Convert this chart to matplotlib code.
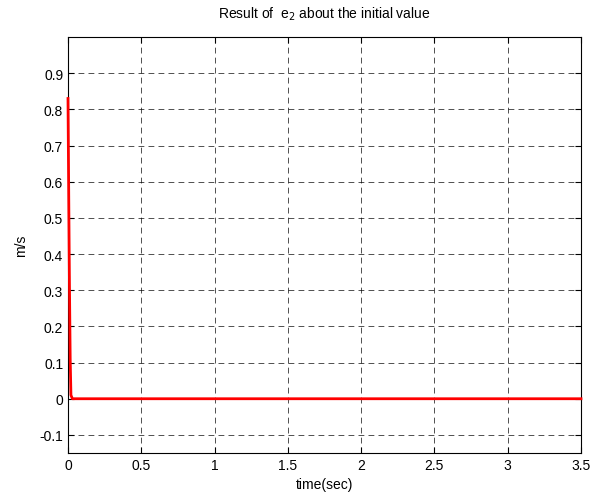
import matplotlib.pyplot as plt

# e2 response
temps = [0, 0.005, 0.01, 0.015, 0.02, 0.03, 3.5]
e2 = [0.83, 0.56, 0.31, 0.11, 0.01, 0.0, 0.0]

x_ticks = [0, 0.5, 1, 1.5, 2, 2.5, 3, 3.5]
x_labels = ['0', '0.5', '1', '1.5', '2', '2.5', '3', '3.5']
y_ticks = [-0.1, 0, 0.1, 0.2, 0.3, 0.4, 0.5, 0.6, 0.7, 0.8, 0.9]
y_labels = ['-0.1', '0', '0.1', '0.2', '0.3', '0.4', '0.5', '0.6', '0.7', '0.8', '0.9']

plt.rcParams['font.family'] = ['Liberation Sans', 'DejaVu Sans']

fig = plt.figure(figsize=(6.01, 5.02), dpi=100)
ax = fig.add_axes([68 / 601, 1 - 454 / 502, 513 / 601, 416 / 502])

ax.plot(temps, e2, color='red', linewidth=2, clip_on=False, zorder=5)

ax.set_xlim(0, 3.5)
ax.set_ylim(-0.15, 1.0)
ax.set_xticks(x_ticks)
ax.set_xticklabels(x_labels)
ax.set_yticks(y_ticks)
ax.set_yticklabels(y_labels)
ax.tick_params(direction='in', labelsize=10, length=4, top=True, right=True)
ax.grid(True, color='black', linestyle=(0, (7, 5)), linewidth=0.6, alpha=0.8)

for sp in ax.spines.values():
    sp.set_linewidth(0.8)

ax.set_title('Result of  e$_2$ about the initial value', fontsize=10, pad=14)
ax.set_xlabel('time(sec)', fontsize=10, labelpad=4)
ax.set_ylabel('m/s', fontsize=10, labelpad=8)

plt.savefig('out.png', dpi=100)
plt.close()
